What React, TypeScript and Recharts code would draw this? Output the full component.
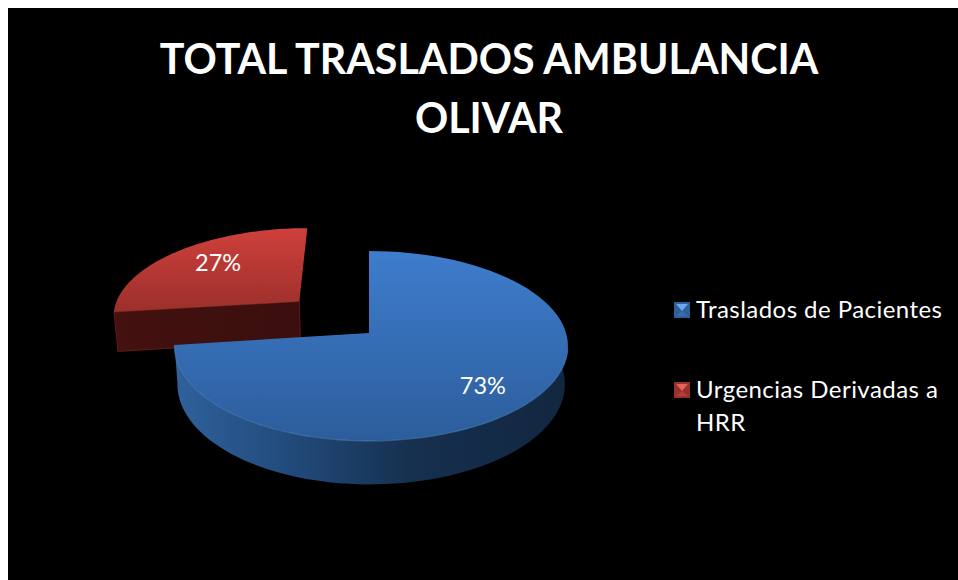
import React from "react";
import { PieChart, Pie, Cell, Legend } from "recharts";

const categories = ["Urgencias Derivadas a HRR", "Traslados de Pacientes"];
const percentages = [27, 73];
const titleLines = ["TOTAL TRASLADOS AMBULANCIA", "OLIVAR"];
const legendOrder = ["Traslados de Pacientes", "Urgencias Derivadas a HRR"];

const data = categories.map((name, i) => ({ name, value: percentages[i] }));

const FONT = "Lato, 'Open Sans', sans-serif";
const RED = categories[0];
const TILT = 0.473;
const PERSP = 0.137;
const DEPTH = 37.5;
const EXPLODE = 0.5;

function projector(cx: number, cy: number, r: number, leftScale = 1) {
  return (u: number, v: number, z = 0): [number, number] => {
    const s = 1 / (1 - PERSP * v);
    const uu = u < 0 ? u * leftScale : u;
    return [cx + r * uu * s * (1 - 0.015 * z), cy + r * TILT * v * s + z * DEPTH * s];
  };
}
const rad = (a: number) => (a * Math.PI) / 180;
const toPath = (pts: [number, number][]) =>
  "M" + pts.map((p) => `${p[0].toFixed(2)},${p[1].toFixed(2)}`).join("L") + "Z";

function PieSlice(props: any) {
  const { cx, cy, outerRadius, startAngle, endAngle, name } = props;
  const isRed = name === RED;
  const P = projector(cx, cy, outerRadius, isRed ? 1 : 0.978);
  const mid = rad((startAngle + endAngle) / 2);
  const ox = isRed ? EXPLODE * Math.cos(mid) : 0;
  const oy = isRed ? -EXPLODE * Math.sin(mid) : 0;
  const scale = isRed ? 0.97 : 1;
  const at = (a: number, f: number, z = 0) =>
    P(ox + f * scale * Math.cos(rad(a)), oy - f * scale * Math.sin(rad(a)), z);
  const arc = (a0: number, a1: number, z = 0) => {
    const pts: [number, number][] = [];
    const n = 80;
    for (let i = 0; i <= n; i++) pts.push(at(a0 + ((a1 - a0) * i) / n, 1, z));
    return pts;
  };
  const top = toPath([at(0, 0), ...arc(startAngle, endAngle)]);
  if (isRed) {
    const wall = toPath([at(startAngle, 1), at(0, 0), at(0, 0, 1.08), at(startAngle, 1, 1.08)]);
    return (
      <g transform="translate(1,-2)">
        <path d={wall} fill="url(#redWall)" stroke="#6e1d1a" strokeWidth={0.8} />
        <path d={top} fill="url(#redTop)" />
      </g>
    );
  }
  const wallStart = 15;
  const wall = toPath([...arc(wallStart, endAngle), ...arc(wallStart, endAngle, 1).reverse()]);
  const rim = arc(-10, endAngle);
  return (
    <g>
      <path d={wall} fill="url(#blueWall)" />
      <path d={top} fill="url(#blueTop)" />
      <path
        d={"M" + rim.map((p) => p.map((c) => c.toFixed(2)).join(",")).join("L")}
        fill="none"
        stroke="#5f97dc"
        strokeOpacity={0.45}
        strokeWidth={1.2}
      />
    </g>
  );
}

function SliceLabel(props: any) {
  const { cx, cy, outerRadius, startAngle, endAngle, percent, name } = props;
  const P = projector(cx, cy, outerRadius);
  const isRed = name === RED;
  const mid = rad((startAngle + endAngle) / 2);
  const f = isRed ? 1.125 : 0.72;
  const [x, y] = P(f * Math.cos(mid), -f * Math.sin(mid));
  return (
    <text
      x={x}
      y={y + (isRed ? -8 : 5)}
      fill="#ffffff"
      fontFamily={FONT}
      fontSize={23.5}
      textAnchor="middle"
      dominantBaseline="central"
    >
      {`${Math.round(percent * 100)}%`}
    </text>
  );
}

const legendSwatch: Record<string, string[]> = {
  [legendOrder[0]]: ["#2f5f9b", "#6fa8ea", "#3a6ea8"],
  [legendOrder[1]]: ["#96302c", "#e8625c", "#b83c37"],
};

function LegendBody() {
  const tops = [0, 80];
  return (
    <div
      style={{
        position: "relative",
        fontFamily: FONT,
        fontSize: 24,
        letterSpacing: 0.45,
        color: "#fff",
        lineHeight: "33px",
      }}
    >
      {legendOrder.map((name, i) => (
        <div key={name} style={{ position: "absolute", left: 0, top: tops[i], width: 272 }}>
          <svg width={16} height={16} style={{ position: "absolute", left: 0, top: 10 }}>
            <rect width={16} height={16} fill={legendSwatch[name][0]} />
            <polygon points="2,2 14,2 8,9" fill={legendSwatch[name][1]} />
            <polygon points="2,14 14,14 8,9" fill={legendSwatch[name][2]} />
          </svg>
          <div style={{ marginLeft: 22 }}>{name}</div>
        </div>
      ))}
    </div>
  );
}

export default function App() {
  return (
    <div style={{ position: "fixed", left: 8, top: 8, right: 0, bottom: 0, overflow: "hidden", background: "#000" }}>
      <PieChart width={950} height={572} margin={{ top: 0, right: 0, bottom: 0, left: 0 }} style={{ background: "#000" }}>
        <defs>
          <linearGradient id="blueTop" x1="0" y1="0" x2="0" y2="1">
            <stop offset="0%" stopColor="#3e7dcd" />
            <stop offset="100%" stopColor="#2c5d9b" />
          </linearGradient>
          <linearGradient id="blueWall" x1="0" y1="0" x2="1" y2="0">
            <stop offset="0%" stopColor="#2f619c" />
            <stop offset="30%" stopColor="#214a7a" />
            <stop offset="60%" stopColor="#16304f" />
            <stop offset="100%" stopColor="#12263f" />
          </linearGradient>
          <linearGradient id="redTop" x1="0" y1="0" x2="0" y2="1">
            <stop offset="0%" stopColor="#cf403b" />
            <stop offset="100%" stopColor="#9c2f2b" />
          </linearGradient>
          <linearGradient id="redWall" x1="0" y1="0" x2="1" y2="0">
            <stop offset="0%" stopColor="#431110" />
            <stop offset="100%" stopColor="#3a0f0d" />
          </linearGradient>
        </defs>
        <text x={481} y={66} fill="#fff" fontFamily={FONT} fontWeight={700} fontSize={41.2} textAnchor="middle">
          {titleLines[0]}
        </text>
        <text x={481} y={125} fill="#fff" fontFamily={FONT} fontWeight={700} fontSize={41.2} textAnchor="middle">
          {titleLines[1]}
        </text>
        <Pie
          data={data}
          dataKey="value"
          nameKey="name"
          cx={361}
          cy={325}
          outerRadius={197}
          startAngle={187.2}
          endAngle={-172.8}
          stroke="none"
          shape={PieSlice}
          label={SliceLabel}
          labelLine={false}
          isAnimationActive={false}
        >
          <Cell fill="#b83c37" />
          <Cell fill="#3a6ea8" />
        </Pie>
        <Legend
          content={LegendBody}
          wrapperStyle={{ position: "absolute", left: 666, top: 284, width: 280, height: 0 }}
        />
      </PieChart>
    </div>
  );
}
